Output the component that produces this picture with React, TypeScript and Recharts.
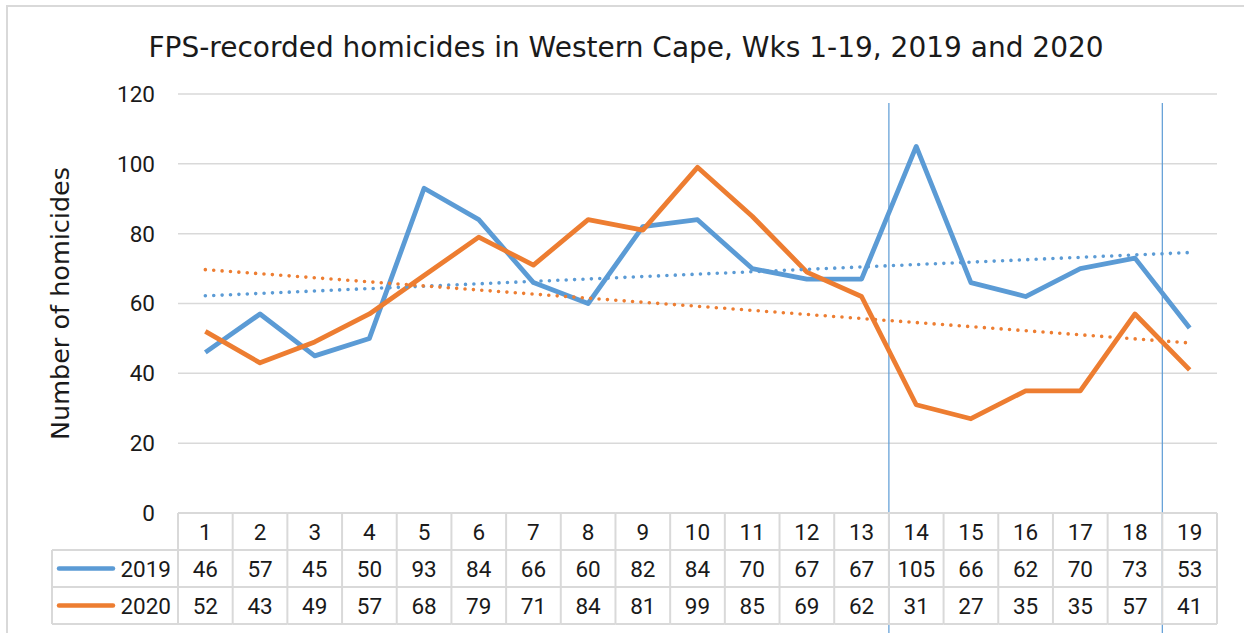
import { LineChart, Line, XAxis, YAxis, CartesianGrid, ReferenceLine } from 'recharts';

const weeks = [1, 2, 3, 4, 5, 6, 7, 8, 9, 10, 11, 12, 13, 14, 15, 16, 17, 18, 19];
const homicides2019 = [46, 57, 45, 50, 93, 84, 66, 60, 82, 84, 70, 67, 67, 105, 66, 62, 70, 73, 53];
const homicides2020 = [52, 43, 49, 57, 68, 79, 71, 84, 81, 99, 85, 69, 62, 31, 27, 35, 35, 57, 41];
// linear trend values read at week 1 and week 19
const trend2019 = [62.2, 74.6];
const trend2020 = [69.7, 48.7];
const yTicks = [0, 20, 40, 60, 80, 100, 120];
// lockdown markers sit between weeks 13/14 and 18/19
const markerWeeks = [13.5, 18.5];

const BLUE = '#5B9BD5';
const ORANGE = '#ED7D31';
const GRID = '#d9d9d9';
const TEXT = '#1a1a1a';
const NUM_FONT = 'Roboto, sans-serif';
const TEXT_FONT = '"DejaVu Sans", sans-serif';

const CHART_W = 1244;
const CHART_H = 633;
const MARGIN = { top: 94, right: 27, bottom: 0, left: 118 };
const Y_AXIS_W = 60;
const PLOT_W = CHART_W - MARGIN.left - MARGIN.right - Y_AXIS_W;
const COL_W = PLOT_W / weeks.length;
const ROW_H = 37;
const LABEL_LEFT = 52;

const chartData = weeks.map((w, i) => ({ week: w, y2019: homicides2019[i], y2020: homicides2020[i] }));
const trendData2019 = [
  { week: weeks[0], value: trend2019[0] },
  { week: weeks[weeks.length - 1], value: trend2019[1] },
];
const trendData2020 = [
  { week: weeks[0], value: trend2020[0] },
  { week: weeks[weeks.length - 1], value: trend2020[1] },
];

const TableColumn = (props: any) => {
  const { x, y, payload, index } = props;
  const i = weeks.indexOf(payload.value);
  const left = x - COL_W / 2;
  const right = x + COL_W / 2;
  const rows = [payload.value, homicides2019[i], homicides2020[i]];
  const isLast = index === weeks.length - 1;
  return (
    <g>
      <line x1={left} x2={left} y1={y} y2={y + ROW_H * 3} stroke={GRID} strokeWidth={2} />
      {isLast && <line x1={right} x2={right} y1={y} y2={y + ROW_H * 3} stroke={GRID} strokeWidth={2} />}
      {[0, 1, 2, 3].map((r) => (
        <line key={r} x1={left} x2={right} y1={y + ROW_H * r} y2={y + ROW_H * r} stroke={GRID} strokeWidth={2} />
      ))}
      {rows.map((v, r) => (
        <text
          key={r}
          x={x}
          y={y + ROW_H * r + ROW_H / 2}
          textAnchor="middle"
          dominantBaseline="central"
          fontSize={22.5}
          fontFamily={NUM_FONT}
          fill={TEXT}
        >
          {v}
        </text>
      ))}
      {index === 0 && (
        <g>
          {[1, 2, 3].map((r) => (
            <line key={r} x1={LABEL_LEFT} x2={left} y1={y + ROW_H * r} y2={y + ROW_H * r} stroke={GRID} strokeWidth={2} />
          ))}
          <line x1={LABEL_LEFT} x2={LABEL_LEFT} y1={y + ROW_H} y2={y + ROW_H * 3} stroke={GRID} strokeWidth={2} />
          {[
            { label: '2019', color: BLUE },
            { label: '2020', color: ORANGE },
          ].map((s, k) => {
            const cy = y + ROW_H * (k + 1) + ROW_H / 2;
            return (
              <g key={s.label}>
                <line x1={LABEL_LEFT + 7} x2={LABEL_LEFT + 61} y1={cy} y2={cy} stroke={s.color} strokeWidth={4.5} strokeLinecap="round" />
                <text x={left - 7} y={cy} textAnchor="end" dominantBaseline="central" fontSize={22.5} fontFamily={NUM_FONT} fill={TEXT}>
                  {s.label}
                </text>
              </g>
            );
          })}
        </g>
      )}
    </g>
  );
};

const YLabel = (props: any) => {
  const vb = props.viewBox || { x: 0, y: 0, height: 0 };
  const cx = vb.x - 58;
  const cy = vb.y + vb.height / 2;
  return (
    <text
      x={cx}
      y={cy}
      transform={`rotate(-90 ${cx} ${cy})`}
      textAnchor="middle"
      dominantBaseline="central"
      fontSize={25.5}
      fontFamily={TEXT_FONT}
      fill={TEXT}
    >
      Number of homicides
    </text>
  );
};

export default function App() {
  return (
    <div
      style={{
        position: 'absolute',
        left: 0,
        top: 0,
        width: CHART_W,
        height: CHART_H,
        overflow: 'hidden',
        background: '#fff',
      }}
    >
      <div
        style={{
          position: 'absolute',
          left: 6,
          top: 5,
          width: 1400,
          height: 800,
          borderLeft: `2px solid ${GRID}`,
          borderTop: `2px solid ${GRID}`,
        }}
      />
      <div
        style={{
          position: 'absolute',
          left: 0,
          top: 34,
          width: 1252,
          textAlign: 'center',
          fontFamily: TEXT_FONT,
          fontSize: 28,
          lineHeight: '28px',
          color: TEXT,
        }}
      >
        FPS-recorded homicides in Western Cape, Wks 1-19, 2019 and 2020
      </div>
      <div style={{ position: 'absolute', left: 0, top: 0 }}>
        <LineChart width={CHART_W} height={CHART_H} data={chartData} margin={MARGIN}>
          <CartesianGrid vertical={false} stroke={GRID} strokeWidth={1.5} />
          <XAxis
            dataKey="week"
            type="number"
            domain={[0.5, 19.5]}
            ticks={weeks}
            interval={0}
            height={CHART_H - MARGIN.top - 419}
            axisLine={false}
            tickLine={false}
            tickSize={0}
            tickMargin={0}
            tick={<TableColumn />}
            allowDuplicatedCategory={false}
          />
          <YAxis
            domain={[0, 120]}
            ticks={yTicks}
            width={Y_AXIS_W}
            axisLine={false}
            tickLine={false}
            tickSize={0}
            tickMargin={23}
            tick={{ fontSize: 22.5, fontFamily: NUM_FONT, fill: TEXT }}
            label={<YLabel />}
          />
          {markerWeeks.map((w) => (
            <ReferenceLine
              key={w}
              segment={[
                { x: w, y: 117.4 },
                { x: w, y: -36 },
              ]}
              stroke={BLUE}
              strokeWidth={1.2}
              ifOverflow="visible"
            />
          ))}
          <Line
            dataKey="y2019"
            type="linear"
            stroke={BLUE}
            strokeWidth={4.8}
            strokeLinejoin="round"
            dot={false}
            activeDot={false}
            isAnimationActive={false}
          />
          <Line
            dataKey="y2020"
            type="linear"
            stroke={ORANGE}
            strokeWidth={4.8}
            strokeLinejoin="round"
            dot={false}
            activeDot={false}
            isAnimationActive={false}
          />
          <Line
            data={trendData2019}
            dataKey="value"
            type="linear"
            stroke={BLUE}
            strokeWidth={3.6}
            strokeDasharray="0 8.4"
            strokeLinecap="round"
            dot={false}
            activeDot={false}
            isAnimationActive={false}
          />
          <Line
            data={trendData2020}
            dataKey="value"
            type="linear"
            stroke={ORANGE}
            strokeWidth={3.6}
            strokeDasharray="0 8.4"
            strokeLinecap="round"
            dot={false}
            activeDot={false}
            isAnimationActive={false}
          />
        </LineChart>
      </div>
    </div>
  );
}
